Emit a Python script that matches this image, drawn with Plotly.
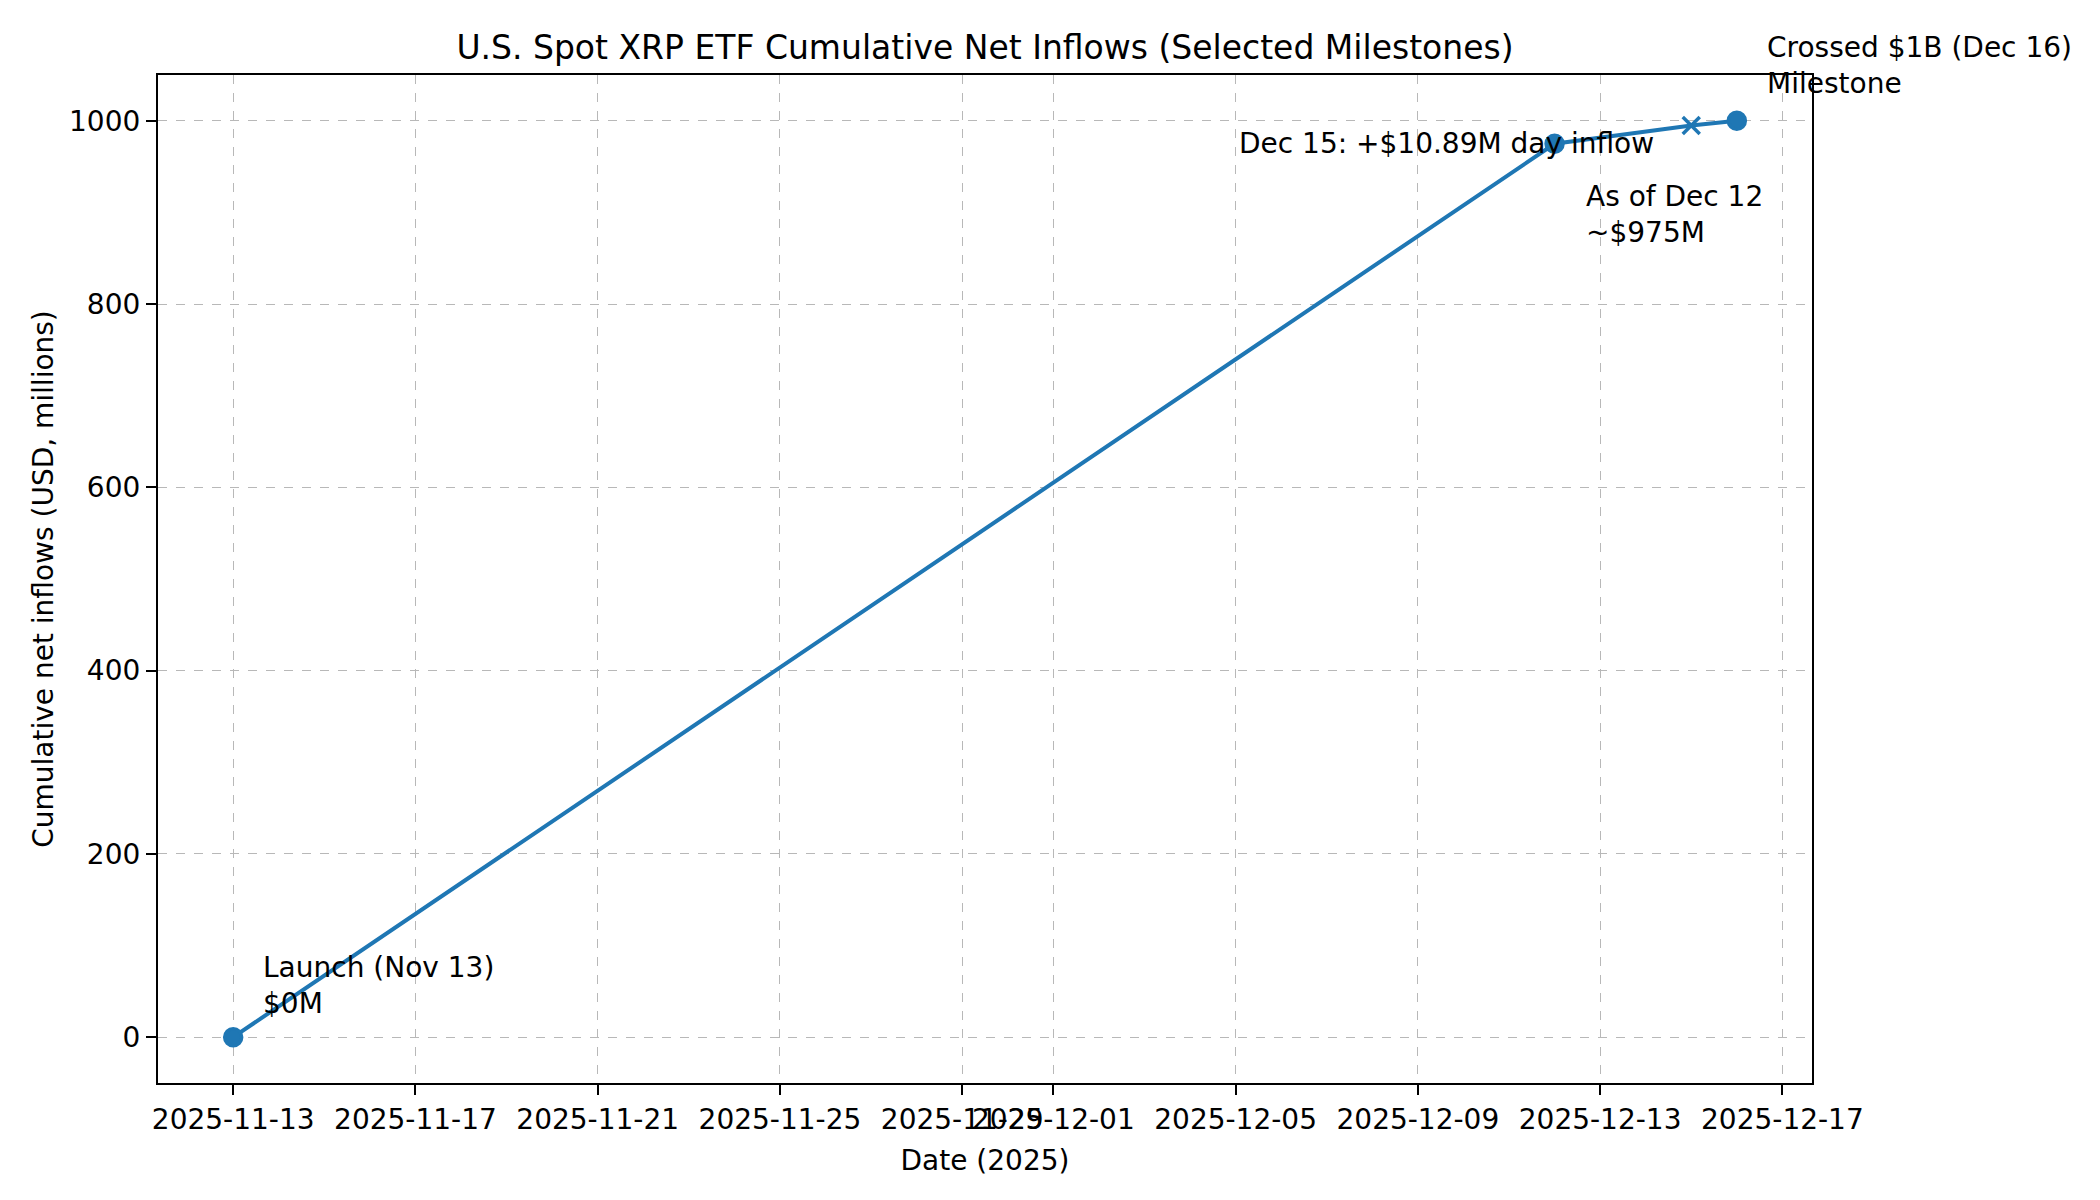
import plotly.graph_objects as go

# points jalons (cumul des entrées nettes, en millions USD)
dates = ["2025-11-13", "2025-12-12", "2025-12-15", "2025-12-16"]
cumulative = [0, 975, 995, 1000]
symbols = ["circle", "circle", "x-thin-open", "circle"]

tick_dates = ["2025-11-13", "2025-11-17", "2025-11-21", "2025-11-25", "2025-11-29",
              "2025-12-01", "2025-12-05", "2025-12-09", "2025-12-13", "2025-12-17"]
y_ticks = [0, 200, 400, 600, 800, 1000]

notes = [
    ("2025-11-13", 0, "Launch (Nov 13)<br>$0M", "left", 28, 52),
    ("2025-12-15", 995, "Dec 15: +$10.89M day inflow", "right", -35, -18),
    ("2025-12-12", 975, "As of Dec 12<br>~$975M", "left", 29, -71),
    ("2025-12-16", 1000, "Crossed $1B (Dec 16)<br>Milestone", "left", 28, 55),
]

blue = "#1f77b4"
font = "DejaVu Sans"

fig = go.Figure(go.Scatter(
    x=dates, y=cumulative, mode="lines+markers",
    line={"color": blue, "width": 4},
    marker={"color": blue, "size": 17, "symbol": symbols,
            "line": {"color": blue, "width": 3.5}},
    showlegend=False,
))

for d, v, txt, anchor, dx, dy in notes:
    fig.add_annotation(x=d, y=v, text=txt, showarrow=False, align="left",
                       xanchor=anchor, yanchor="middle", xshift=dx, yshift=dy,
                       font={"size": 28, "color": "black", "family": font})

axis_style = {
    "showline": True, "linecolor": "black", "linewidth": 2.2, "mirror": True,
    "ticks": "outside", "ticklen": 10, "tickwidth": 2.2, "tickcolor": "black",
    "showgrid": True, "gridcolor": "#b8b8b8", "gridwidth": 1.3, "griddash": "dash",
    "zeroline": False, "tickangle": 0,
    "tickfont": {"size": 28, "color": "black", "family": font},
}

# la page html ajoute 8px de marge autour de la figure : on compense
fig.update_layout(
    width=2100, height=1200,
    paper_bgcolor="white", plot_bgcolor="white",
    margin={"l": 150, "r": 296, "t": 67, "b": 125},
    font={"family": font, "color": "black"},
    title={"text": "U.S. Spot XRP ETF Cumulative Net Inflows (Selected Milestones)",
           "x": 977 / 2100, "xanchor": "center", "y": 1 - 39 / 1200, "yanchor": "middle",
           "font": {"size": 33, "color": "black", "family": font}},
    xaxis={**axis_style, "type": "date", "automargin": False,
           "range": ["2025-11-11 08:24", "2025-12-17 15:36"],
           "tickvals": tick_dates, "ticktext": tick_dates,
           "title": {"text": "Date (2025)", "standoff": 16,
                     "font": {"size": 28, "color": "black", "family": font}}},
    yaxis={**axis_style, "range": [-50, 1050], "tickvals": y_ticks, "automargin": False,
           "title": {"text": "Cumulative net inflows (USD, millions)", "standoff": 7,
                     "font": {"size": 28, "color": "black", "family": font}}},
)

fig.write_html("out.html")
